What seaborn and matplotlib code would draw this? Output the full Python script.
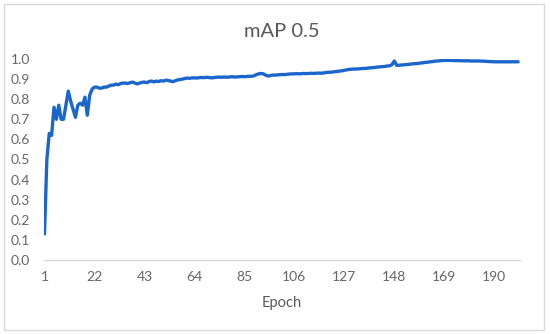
import numpy as np
import pandas as pd
import seaborn as sns
import matplotlib.pyplot as plt
from matplotlib.patches import Rectangle

# mAP@0.5 per epoch (epochs 1..200)
map50 = [
    0.13, 0.50, 0.63, 0.62, 0.76, 0.70, 0.77, 0.70, 0.70, 0.77,
    0.84, 0.79, 0.75, 0.71, 0.77, 0.78, 0.77, 0.81, 0.72, 0.82,
    0.85, 0.86, 0.86, 0.855, 0.855, 0.86, 0.86, 0.865, 0.87, 0.87,
    0.875, 0.872, 0.878, 0.88, 0.88, 0.878, 0.882, 0.885, 0.88, 0.876,
    0.88, 0.884, 0.885, 0.882, 0.888, 0.89, 0.886, 0.89, 0.888, 0.892,
    0.89, 0.895, 0.893, 0.89, 0.887, 0.892, 0.896, 0.898, 0.90, 0.903,
    0.905, 0.904, 0.906, 0.906, 0.905, 0.907, 0.908, 0.907, 0.909, 0.908,
    0.906, 0.907, 0.909, 0.91, 0.909, 0.91, 0.91, 0.909, 0.911, 0.912,
    0.91, 0.911, 0.912, 0.913, 0.912, 0.913, 0.914, 0.914, 0.916, 0.922,
    0.926, 0.928, 0.926, 0.919, 0.915, 0.918, 0.92, 0.92, 0.921, 0.922,
    0.923, 0.922, 0.924, 0.925, 0.926, 0.926, 0.927, 0.926, 0.927, 0.928,
    0.927, 0.928, 0.929, 0.928, 0.929, 0.93, 0.929, 0.93, 0.932, 0.934,
    0.934, 0.935, 0.937, 0.938, 0.94, 0.941, 0.944, 0.946, 0.948, 0.949,
    0.95, 0.95, 0.951, 0.952, 0.953, 0.953, 0.955, 0.956, 0.957, 0.958,
    0.96, 0.961, 0.962, 0.963, 0.965, 0.966, 0.972, 0.99, 0.968, 0.969,
    0.97, 0.971, 0.972, 0.973, 0.975, 0.976, 0.977, 0.978, 0.98, 0.981,
    0.983, 0.984, 0.986, 0.987, 0.989, 0.99, 0.991, 0.992, 0.993, 0.993,
    0.993, 0.993, 0.992, 0.992, 0.992, 0.991, 0.991, 0.991, 0.991, 0.99,
    0.99, 0.99, 0.99, 0.99, 0.989, 0.989, 0.988, 0.987, 0.987, 0.986,
    0.986, 0.986, 0.986, 0.986, 0.986, 0.986, 0.986, 0.986, 0.986, 0.986,
]
epochs = list(range(1, len(map50) + 1))
xticks = list(range(1, 201, 21))
yticks = [0.0, 0.1, 0.2, 0.3, 0.4, 0.5, 0.6, 0.7, 0.8, 0.9, 1.0]

df = pd.DataFrame({'Epoch': epochs, 'mAP': map50})

sns.set_style('white')
plt.rcParams['font.family'] = ['Lato', 'DejaVu Sans']

fig = plt.figure(figsize=(5.5, 3.34), dpi=100)
ax = fig.add_axes([0.08, 0.2216, 0.8655, 0.6018])

sns.lineplot(data=df, x='Epoch', y='mAP', ax=ax, color='#1a66cc', linewidth=2.4)

ax.set_xlim(0.8, 200.8)
ax.set_ylim(0, 1.0)
ax.set_xticks(xticks)
ax.set_yticks(yticks)
ax.set_yticklabels([f'{v:.1f}' for v in yticks])
ax.tick_params(axis='x', length=0, labelsize=10, colors='#666666', pad=8)
ax.tick_params(axis='y', length=0, labelsize=10, colors='#666666', pad=10)
ax.set_xlabel('Epoch', fontsize=10.5, color='#595959', labelpad=9)
ax.set_ylabel('')
ax.set_title('mAP 0.5', fontsize=14.5, color='#595959', pad=16)

sns.despine(ax=ax, left=True, top=True, right=True, bottom=False)
ax.spines['bottom'].set_color('#d9d9d9')
ax.spines['bottom'].set_linewidth(1.0)

# chart frame
fig.patches.append(Rectangle((4 / 550, 4 / 334), 540 / 550, 326 / 334,
                             transform=fig.transFigure, fill=False,
                             edgecolor='#d9d9d9', linewidth=1.0))

fig.savefig('out.png', dpi=100)
